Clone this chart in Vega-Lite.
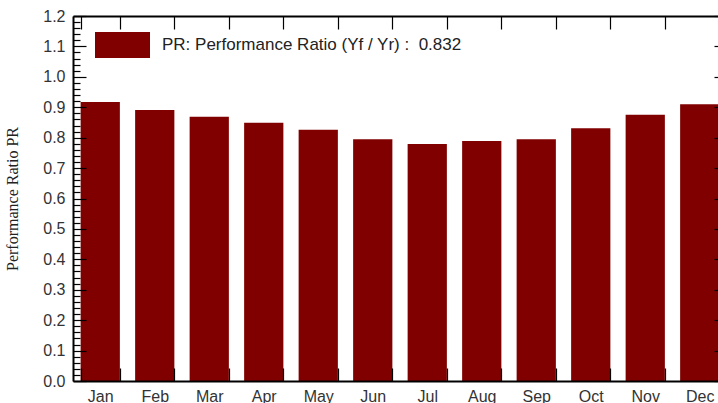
{
  "$schema": "https://vega.github.io/schema/vega-lite/v6.json",
  "autosize": "none",
  "width": 654,
  "height": 365,
  "padding": {"left": 73, "top": 16, "right": -9, "bottom": 22},
  "background": "white",
  "config": {
    "view": {"stroke": null},
    "axis": {
      "domainColor": "black",
      "domainWidth": 2,
      "tickColor": "black",
      "tickWidth": 1.2,
      "labelFont": "Liberation Sans",
      "labelFontSize": 16,
      "labelColor": "#333",
      "grid": false
    }
  },
  "data": {
    "values": [
      {"month": "Jan", "pr": 0.917, "series": "PR: Performance Ratio (Yf / Yr) :\u00a0 0.832"},
      {"month": "Feb", "pr": 0.891, "series": "PR: Performance Ratio (Yf / Yr) :\u00a0 0.832"},
      {"month": "Mar", "pr": 0.869, "series": "PR: Performance Ratio (Yf / Yr) :\u00a0 0.832"},
      {"month": "Apr", "pr": 0.849, "series": "PR: Performance Ratio (Yf / Yr) :\u00a0 0.832"},
      {"month": "May", "pr": 0.826, "series": "PR: Performance Ratio (Yf / Yr) :\u00a0 0.832"},
      {"month": "Jun", "pr": 0.795, "series": "PR: Performance Ratio (Yf / Yr) :\u00a0 0.832"},
      {"month": "Jul", "pr": 0.779, "series": "PR: Performance Ratio (Yf / Yr) :\u00a0 0.832"},
      {"month": "Aug", "pr": 0.789, "series": "PR: Performance Ratio (Yf / Yr) :\u00a0 0.832"},
      {"month": "Sep", "pr": 0.795, "series": "PR: Performance Ratio (Yf / Yr) :\u00a0 0.832"},
      {"month": "Oct", "pr": 0.831, "series": "PR: Performance Ratio (Yf / Yr) :\u00a0 0.832"},
      {"month": "Nov", "pr": 0.875, "series": "PR: Performance Ratio (Yf / Yr) :\u00a0 0.832"},
      {"month": "Dec", "pr": 0.910, "series": "PR: Performance Ratio (Yf / Yr) :\u00a0 0.832"}
    ]
  },
  "resolve": {"axis": {"x": "independent", "y": "independent"}},
  "layer": [
    {
      "mark": {"type": "bar", "stroke": null},
      "encoding": {
        "x": {
          "field": "month", "type": "ordinal", "sort": null,
          "scale": {"paddingInner": 0.28, "paddingOuter": 0.14},
          "axis": {
            "orient": "bottom", "title": null, "labelAngle": 0,
            "tickBand": "extent", "tickSize": -13, "labelPadding": 20, "zindex": 1
          }
        },
        "y": {
          "field": "pr", "type": "quantitative",
          "scale": {"domain": [0, 1.2], "nice": false},
          "axis": {
            "orient": "left",
            "values": [0,0.02,0.04,0.06,0.08,0.1,0.12,0.14,0.16,0.18,0.2,0.22,0.24,0.26,0.28,0.3,0.32,0.34,0.36,0.38,0.4,0.42,0.44,0.46,0.48,0.5,0.52,0.54,0.56,0.58,0.6,0.62,0.64,0.66,0.68,0.7,0.72,0.74,0.76,0.78,0.8,0.82,0.84,0.86,0.88,0.9,0.92,0.94,0.96,0.98,1,1.02,1.04,1.06,1.08,1.1,1.12,1.14,1.16,1.18,1.2],
            "labelExpr": "abs(datum.value*10 - round(datum.value*10)) < 0.001 ? format(datum.value, '.1f') : ''",
            "labelOverlap": false,
            "labelBound": false,
            "labelFlush": false,
            "tickSize": {"condition": {"test": "abs(datum.value*10 - round(datum.value*10)) < 0.001", "value": -13}, "value": -7},
            "labelPadding": 21,
            "zindex": 1,
            "title": "Performance Ratio PR",
            "titleFont": "Liberation Serif",
            "titleFontSize": 16,
            "titleFontWeight": "normal",
            "titleColor": "#222",
            "titlePadding": 22
          }
        },
        "color": {
          "field": "series", "type": "nominal",
          "scale": {"range": ["#800000"]},
          "legend": {
            "orient": "none", "legendX": 22, "legendY": 1.5, "title": null,
            "symbolType": "M-1,-0.47H1V0.47H-1Z", "symbolSize": 3025,
            "symbolStrokeWidth": 0, "symbolOpacity": 1,
            "labelFont": "Liberation Sans", "labelFontSize": 17, "labelColor": "#222",
            "labelLimit": 500, "labelOffset": 12, "padding": 0
          }
        }
      }
    },
    {
      "mark": {"type": "bar", "opacity": 0},
      "encoding": {
        "x": {
          "field": "month", "type": "ordinal", "sort": null,
          "axis": {
            "orient": "top", "title": null, "labels": false,
            "tickBand": "extent", "tickSize": -13, "zindex": 1
          }
        },
        "y": {
          "field": "pr", "type": "quantitative",
          "axis": {
            "orient": "right", "title": null, "labels": false,
            "values": [0,0.1,0.2,0.3,0.4,0.5,0.6,0.7,0.8,0.9,1,1.1,1.2],
            "tickSize": -13, "zindex": 1
          }
        }
      }
    }
  ]
}
